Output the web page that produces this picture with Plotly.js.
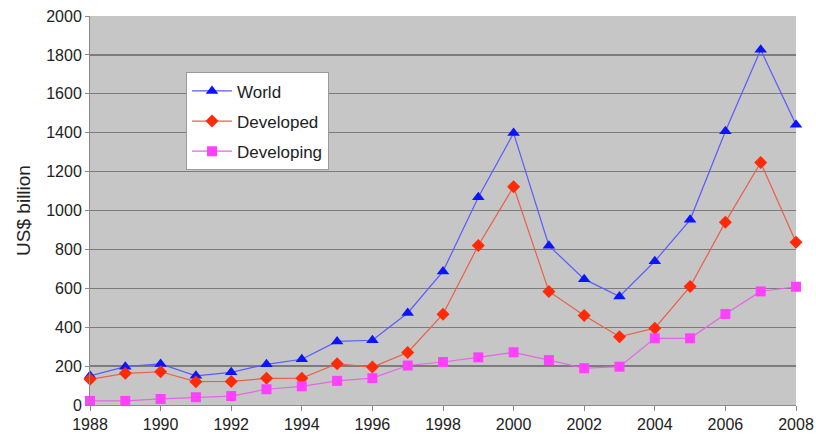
<!DOCTYPE html>
<html>
<head>
<meta charset="utf-8">
<script src="https://cdn.plot.ly/plotly-3.0.1.min.js"></script>
<style>html,body{margin:0;padding:0;background:#fff;}#chart{width:816px;height:441px;}</style>
</head>
<body>
<div id="chart"></div>
<script>
const years = [1988,1989,1990,1991,1992,1993,1994,1995,1996,1997,1998,1999,2000,2001,2002,2003,2004,2005,2006,2007,2008];
const world = [150,197,211,150,168,209,235,327,333,473,687,1068,1398,819,647,558,739,952,1407,1826,1441];
const developed = [132,163,171,120,121,137,138,212,195,270,467,820,1122,584,460,351,395,609,940,1247,837];
const developing = [21,21,31,40,46,81,96,124,138,203,221,245,271,231,189,197,343,343,468,584,608];
const xTicks = [1988,1990,1992,1994,1996,1998,2000,2002,2004,2006,2008];
const yTicks = [0,200,400,600,800,1000,1200,1400,1600,1800,2000];

const traces = [
  {x: years, y: world, name: 'World', legendgroup: 'a', mode: 'lines+markers', cliponaxis: false,
   line: {color: '#5a5aff', width: 1.2}, marker: {symbol: 'triangle-up', size: 11, color: '#0a14ff'}},
  {x: years, y: developed, name: 'Developed', legendgroup: 'b', mode: 'lines+markers', cliponaxis: false,
   line: {color: '#e8604a', width: 1.2}, marker: {symbol: 'diamond', size: 10, color: '#ff2a08'}},
  {x: years, y: developing, name: 'Developing', legendgroup: 'c', mode: 'lines+markers', cliponaxis: false,
   line: {color: '#e466e4', width: 1.2}, marker: {symbol: 'square', size: 10, color: '#ff40ff'}}
];

const layout = {
  width: 816, height: 441,
  margin: {l: 90, r: 20, t: 16, b: 36},
  paper_bgcolor: '#ffffff',
  plot_bgcolor: '#c6c6c6',
  font: {family: 'Liberation Sans, Arial, sans-serif', size: 16, color: '#222222'},
  xaxis: {
    range: [1988, 2008], tickvals: xTicks, ticktext: xTicks.map(String),
    showgrid: false, zeroline: false, showline: true, linecolor: '#8a8a8a', linewidth: 1,
    ticks: 'outside', ticklen: 5, tickcolor: '#8a8a8a', tickfont: {size: 16}
  },
  yaxis: {
    range: [0, 2000], tickvals: yTicks, ticktext: yTicks.map(String),
    showgrid: true, gridcolor: '#7c7c7c', gridwidth: 1.3, zeroline: false,
    showline: true, linecolor: '#8a8a8a', linewidth: 1,
    ticks: 'outside', ticklen: 4, tickcolor: '#8a8a8a', tickfont: {size: 16},
    title: {text: 'US$ billion', font: {size: 19}, standoff: 10}
  },
  showlegend: true,
  legend: {
    x: 0.136, y: 0.855, xanchor: 'left', yanchor: 'top',
    bgcolor: '#ffffff', bordercolor: '#9a9a9a', borderwidth: 1,
    font: {size: 17, color: '#222222'}, traceorder: 'grouped', tracegroupgap: 5,
    itemwidth: 40
  }
};

Plotly.newPlot('chart', traces, layout, {displayModeBar: false, staticPlot: true});
</script>
</body>
</html>
